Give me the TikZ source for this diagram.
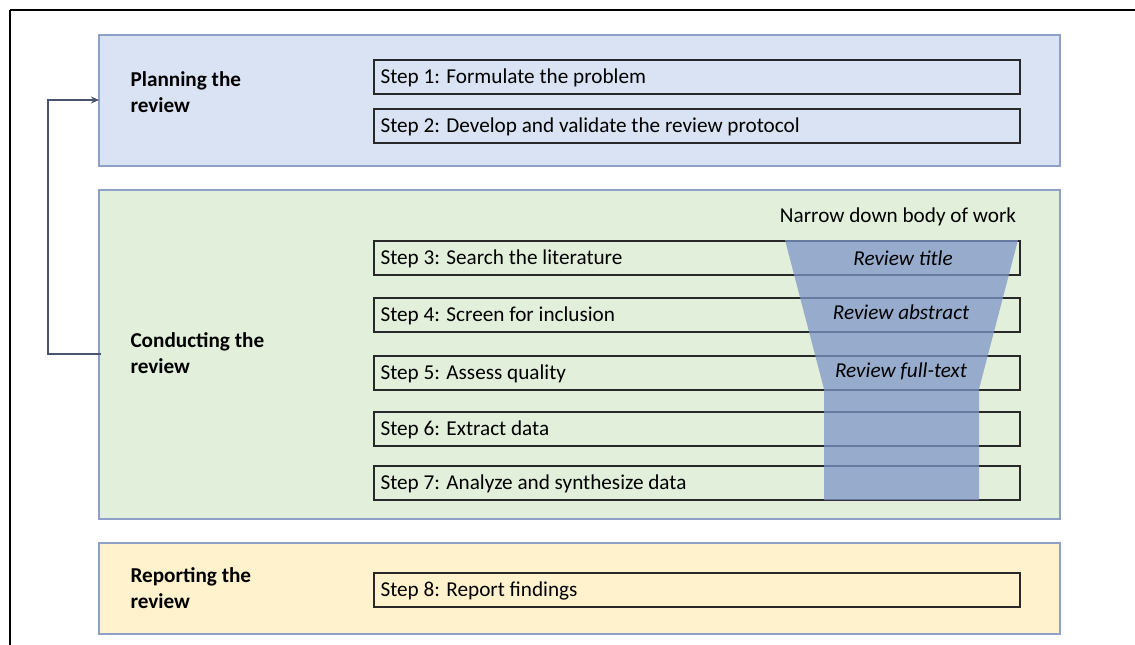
\documentclass[tikz,border=0pt]{standalone}
\usepackage{fontspec}
\setmainfont{Carlito}
\usetikzlibrary{arrows.meta}

\definecolor{planfill}{RGB}{218,227,243}
\definecolor{conductfill}{RGB}{226,239,218}
\definecolor{reportfill}{RGB}{255,242,204}
\definecolor{phaseedge}{RGB}{143,160,200}
\definecolor{funnelfill}{RGB}{126,150,201}
\definecolor{loopline}{RGB}{72,84,108}
\definecolor{stepedge}{RGB}{40,40,40}

\tikzset{
  phase/.style={draw=phaseedge, line width=1.2pt},
  stepbox/.style={draw=stepedge, line width=1.5pt, minimum width=646pt,
    minimum height=34pt, inner sep=0pt, anchor=north west},
  steptext/.style={anchor=west, font=\fontsize{21.2}{25}\selectfont},
  phasetext/.style={anchor=north west, align=left,
    font=\fontsize{21.2}{26}\selectfont\bfseries},
  funneltext/.style={font=\fontsize{21.2}{25}\selectfont\itshape},
}

\begin{document}
\begin{tikzpicture}[x=1pt, y=-1pt]
  \useasboundingbox (0,0) rectangle (1135,645);

  % outer frame (only top and left edges fall inside the page)
  \draw[line width=1.6pt] (10,10) -- (1140,10);
  \draw[line width=1.6pt] (10,10) -- (10,650);

  % the three phases
  \filldraw[phase, fill=planfill] (99,35) rectangle (1060,166);
  \filldraw[phase, fill=conductfill] (99,190) rectangle (1060,519);
  \filldraw[phase, fill=reportfill] (99,543) rectangle (1060,634);

  \node[phasetext] (plan) at (127,68) {Planning the\\review};
  \node[phasetext] (conduct) at (127,329) {Conducting the\\review};
  \node[phasetext] (report) at (127,564) {Reporting the\\review};

  % step boxes
  \node[stepbox] (s1) at (373,59) {};
  \node[stepbox] (s2) at (373,108) {};
  \node[stepbox] (s3) at (373,240) {};
  \node[stepbox] (s4) at (373,297) {};
  \node[stepbox] (s5) at (373,355) {};
  \node[stepbox] (s6) at (373,411) {};
  \node[stepbox] (s7) at (373,465) {};
  \node[stepbox] (s8) at (373,572) {};

  % funnel narrowing the body of work
  \fill[funnelfill, opacity=0.75]
    (785,240) -- (1018,240) -- (979,389) -- (979,500) -- (824,500) -- (824,389) -- cycle;

  \node[steptext] at ([xshift=4pt,yshift=-1.5pt]s1.west) {Step 1: Formulate the problem};
  \node[steptext] at ([xshift=4pt,yshift=-1.5pt]s2.west) {Step 2: Develop and validate the review protocol};
  \node[steptext] at ([xshift=4pt,yshift=-1.5pt]s3.west) {Step 3: Search the literature};
  \node[steptext] at ([xshift=4pt,yshift=-1.5pt]s4.west) {Step 4: Screen for inclusion};
  \node[steptext] at ([xshift=4pt,yshift=-1.5pt]s5.west) {Step 5: Assess quality};
  \node[steptext] at ([xshift=4pt,yshift=-1.5pt]s6.west) {Step 6: Extract data};
  \node[steptext] at ([xshift=4pt,yshift=-1.5pt]s7.west) {Step 7: Analyze and synthesize data};
  \node[steptext] at ([xshift=4pt,yshift=-1.5pt]s8.west) {Step 8: Report findings};

  \node[font=\fontsize{21.2}{25}\selectfont] (narrow) at (898,217) {Narrow down body of work};
  \node[funneltext] (rt) at (903,258) {Review title};
  \node[funneltext] (ra) at (901,312) {Review abstract};
  \node[funneltext] (rf) at (901,371) {Review full-text};

  % loop back from conducting to planning
  \coordinate (cin) at (101,354);
  \coordinate (pin) at (99,100);
  \draw[loopline, line width=2.6pt, -{Stealth[length=8pt,width=7pt]}]
    (cin) -- (48,354) -- (48,100) -- (pin);
\end{tikzpicture}
\end{document}
